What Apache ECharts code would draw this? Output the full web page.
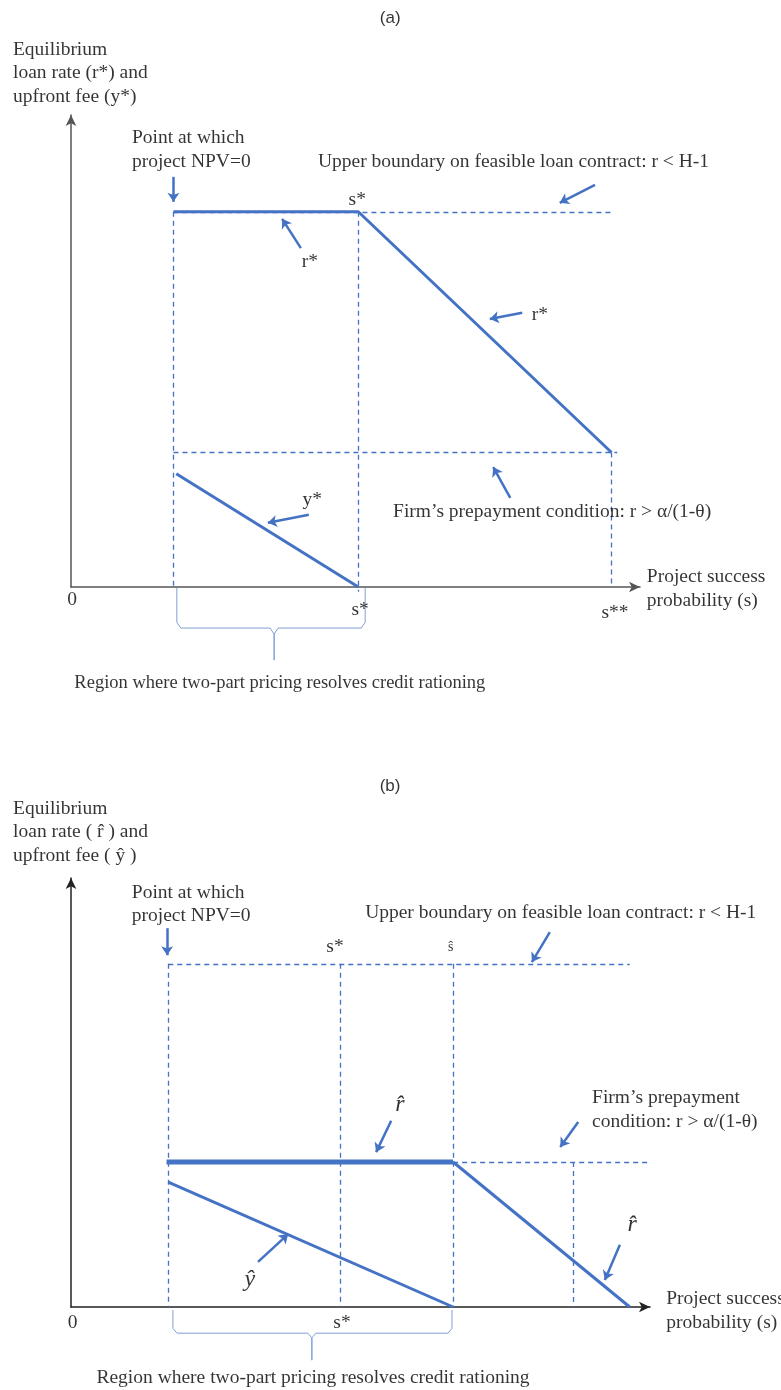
<!DOCTYPE html>
<html>
<head>
<meta charset="utf-8">
<script src="https://cdn.jsdelivr.net/npm/echarts@6/dist/echarts.min.js"></script>
<style>
  html, body { margin: 0; padding: 0; background: #fff; }
  #chart { width: 781px; height: 1390px; }
</style>
</head>
<body>
<div id="chart"></div>
<script>
// panel (a): s on x (0..1), rate / fee on y (0..1)
const rStarA = [[0.18, 0.795], [0.505, 0.795], [0.95, 0.285]]
const yStarA = [[0.185, 0.24], [0.505, 0]]
const guidesA = [
  [[0.18, 0.795], [0.95, 0.795]],   // r < H-1
  [[0.18, 0.285], [0.96, 0.285]],   // r > a/(1-theta)
  [[0.18, 0.795], [0.18, 0]],       // NPV = 0
  [[0.505, 0.795], [0.505, -0.01]], // s*
  [[0.95, 0.285], [0.95, 0]]        // s**
]

// panel (b)
const rHatFlatB = [[0.165, 0.338], [0.66, 0.338]]
const rHatDiagB = [[0.66, 0.338], [0.965, 0]]
const yHatB = [[0.168, 0.291], [0.66, 0]]
const guidesB = [
  [[0.168, 0.80], [0.965, 0.80]],
  [[0.66, 0.338], [1.0, 0.338]],
  [[0.168, 0.80], [0.168, 0]],
  [[0.465, 0.80], [0.465, 0]],
  [[0.66, 0.80], [0.66, 0]],
  [[0.867, 0.338], [0.867, 0]]
]

const tickLabelsA = ['0', 's*', 's**']
const tickLabelsB = ['0', 's*']

// annotation arrows and text (positions in axis units)
const arrowsA = [
  [[0.18, 0.869], [0.18, 0.816]],
  [[0.921, 0.852], [0.859, 0.814]],
  [[0.404, 0.718], [0.371, 0.780]],
  [[0.793, 0.581], [0.736, 0.568]],
  [[0.418, 0.153], [0.346, 0.136]],
  [[0.772, 0.189], [0.742, 0.254]]
]
const arrowsB = [
  [[0.166, 0.883], [0.166, 0.82]],
  [[0.827, 0.874], [0.796, 0.804]],
  [[0.553, 0.434], [0.527, 0.361]],
  [[0.876, 0.431], [0.845, 0.373]],
  [[0.323, 0.105], [0.375, 0.170]],
  [[0.948, 0.145], [0.922, 0.063]]
]

const braceA = [[0.186, -0.002], [0.186, -0.075], [0.193, -0.087], [0.35, -0.087], [0.357, -0.1], [0.357, -0.155],
  [0.357, -0.1], [0.364, -0.087], [0.51, -0.087], [0.517, -0.075], [0.517, -0.002]]
const braceB = [[0.176, -0.007], [0.176, -0.05], [0.183, -0.061], [0.409, -0.061], [0.416, -0.072], [0.416, -0.124],
  [0.416, -0.072], [0.423, -0.061], [0.651, -0.061], [0.658, -0.05], [0.658, -0.007]]

const textsA = [
  { text: '(a)', pos: [0.561, 1.205], font: 'sans', size: 17 },
  { text: 'Equilibrium\nloan rate (r*) and\nupfront fee (y*)', pos: [-0.102, 1.089], align: 'left' },
  { text: 'Point at which\nproject NPV=0', pos: [0.107, 0.926], align: 'left' },
  { text: 'Upper boundary on feasible loan contract: r < H-1', pos: [0.434, 0.90], align: 'left' },
  { text: 's*', pos: [0.503, 0.82] },
  { text: 'r*', pos: [0.42, 0.689] },
  { text: 'r*', pos: [0.824, 0.576] },
  { text: 'y*', pos: [0.424, 0.184] },
  { text: 'Firm\u2019s prepayment condition: r > \u03b1/(1-\u03b8)', pos: [0.566, 0.159], align: 'left' },
  { text: tickLabelsA[0], pos: [0.002, -0.028] },
  { text: tickLabelsA[1], pos: [0.508, -0.049] },
  { text: tickLabelsA[2], pos: [0.956, -0.055] },
  { text: 'Project success\nprobability (s)', pos: [1.012, -0.004], align: 'left' },
  { text: 'Region where two-part pricing resolves credit rationing', pos: [0.367, -0.203], size: 18.5 }
]
const textsB = [
  { text: '(b)', pos: [0.551, 1.214], font: 'sans', size: 17 },
  { text: 'Equilibrium\nloan rate ( r\u0302 ) and\nupfront fee ( \u0177 )', pos: [-0.1, 1.107], align: 'left' },
  { text: 'Point at which\nproject NPV=0', pos: [0.105, 0.939], align: 'left' },
  { text: 'Upper boundary on feasible loan contract: r < H-1', pos: [0.508, 0.918], align: 'left' },
  { text: 's*', pos: [0.456, 0.839] },
  { text: '\u015d', pos: [0.656, 0.839], size: 14 },
  { text: 'r\u0302', pos: [0.568, 0.471], italic: true, size: 24 },
  { text: 'Firm\u2019s prepayment\ncondition: r > \u03b1/(1-\u03b8)', pos: [0.90, 0.459], align: 'left' },
  { text: '\u0177', pos: [0.309, 0.063], italic: true, size: 24 },
  { text: 'r\u0302', pos: [0.969, 0.191], italic: true, size: 24 },
  { text: tickLabelsB[0], pos: [0.003, -0.037] },
  { text: tickLabelsB[1], pos: [0.468, -0.037] },
  { text: 'Project success\nprobability (s)', pos: [1.028, -0.009], align: 'left' },
  { text: 'Region where two-part pricing resolves credit rationing', pos: [0.418, -0.1655] }
]

const blue = '#4472c4'
const serif = '"Liberation Serif", "DejaVu Serif", serif'
const sans = '"Liberation Sans", Arial, sans-serif'

function axes (grid, color) {
  const line = { show: true, onZero: true, symbol: ['none', 'arrow'], symbolSize: [8, 11], lineStyle: { color: color, width: 1.5 } }
  return {
    x: { type: 'value', gridIndex: grid, min: 0, max: 1, axisLine: line, axisTick: { show: false }, axisLabel: { show: false }, splitLine: { show: false } },
    y: { type: 'value', gridIndex: grid, min: 0, max: 1, axisLine: line, axisTick: { show: false }, axisLabel: { show: false }, splitLine: { show: false } }
  }
}

function solid (grid, data, width) {
  return { type: 'line', xAxisIndex: grid, yAxisIndex: grid, data: data, showSymbol: false, symbol: 'none', clip: false, silent: true, z: 5,
    lineStyle: { color: blue, width: width } }
}

function segs (grid, list, style, arrow) {
  return { type: 'lines', coordinateSystem: 'cartesian2d', xAxisIndex: grid, yAxisIndex: grid, clip: false, silent: true, z: arrow ? 6 : 3,
    symbol: arrow ? ['none', 'arrow'] : 'none', symbolSize: 9, lineStyle: Object.assign({ color: blue, opacity: 1, curveness: 0 }, style),
    data: list.map(c => ({ coords: c })) }
}

function brace (grid, pts) {
  return { type: 'line', xAxisIndex: grid, yAxisIndex: grid, data: pts, showSymbol: false, symbol: 'none', clip: false, silent: true,
    lineStyle: { color: '#7f9fd4', width: 1 } }
}

function texts (grid, list) {
  return { type: 'scatter', xAxisIndex: grid, yAxisIndex: grid, symbolSize: 1, clip: false, silent: true, z: 10,
    itemStyle: { color: 'rgba(0,0,0,0)' },
    label: { show: true, position: 'inside', formatter: '{b}', color: '#000', fontFamily: serif, fontSize: 19.5, lineHeight: 23.5 },
    data: list.map(t => ({
      name: t.text, value: t.pos,
      label: { align: t.align || 'center', verticalAlign: 'middle', fontStyle: t.italic ? 'italic' : 'normal',
        fontSize: t.size || 19.5, fontFamily: t.font === 'sans' ? sans : serif }
    })) }
}

const axA = axes(0, '#555')
const axB = axes(1, '#222')

const option = {
  backgroundColor: '#fff',
  animation: false,
  grid: [
    { left: 71, top: 115, width: 569, height: 472 },
    { left: 71, top: 878, width: 579, height: 429 }
  ],
  xAxis: [axA.x, axB.x],
  yAxis: [axA.y, axB.y],
  series: [
    segs(0, guidesA, { width: 1.3, type: [5, 4] }, false),
    solid(0, rStarA, 3),
    solid(0, yStarA, 3),
    segs(0, arrowsA, { width: 2.5 }, true),
    brace(0, braceA),
    texts(0, textsA),

    segs(1, guidesB, { width: 1.3, type: [5, 4] }, false),
    solid(1, rHatFlatB, 5),
    solid(1, rHatDiagB, 3),
    solid(1, yHatB, 3),
    segs(1, arrowsB, { width: 2.5 }, true),
    brace(1, braceB),
    texts(1, textsB)
  ]
}

const el = echarts.init(document.getElementById('chart'))
el.setOption(option)
</script>
</body>
</html>
